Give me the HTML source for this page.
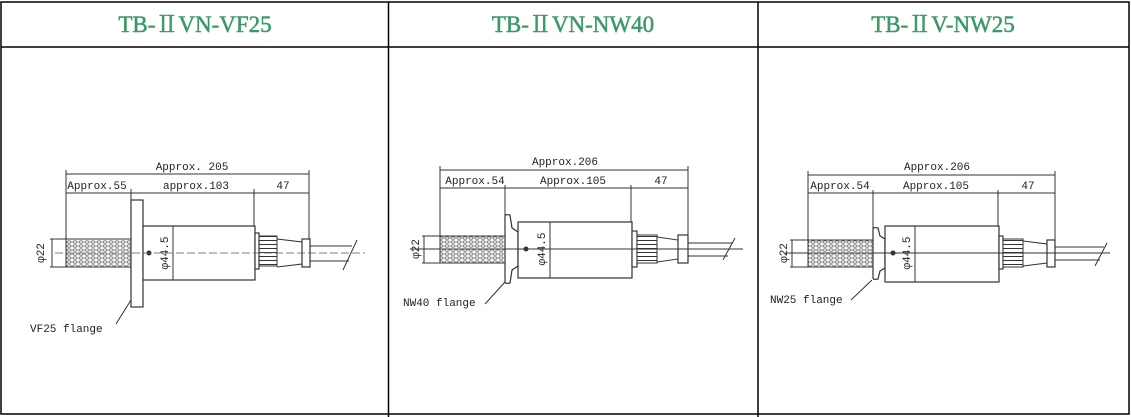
<!DOCTYPE html>
<html><head><meta charset="utf-8"><style>
html,body{margin:0;padding:0;background:#fff;width:1131px;height:417px;overflow:hidden}
svg{display:block}
.h{font-family:"Liberation Serif","Noto Serif CJK SC",serif;font-size:23px;fill:#3a9a68;stroke:#3a9a68;stroke-width:0.5}
.t{font-family:"Liberation Mono","DejaVu Sans Mono",monospace;font-size:11px;fill:#222}
.l{stroke:#333;stroke-width:1;fill:none}
.b{stroke:#333;stroke-width:1.2;fill:#fff}
</style></head><body>
<svg width="1131" height="417" viewBox="0 0 1131 417" xmlns="http://www.w3.org/2000/svg">
<defs>
<pattern id="m" width="6" height="4" patternUnits="userSpaceOnUse">
<rect width="6" height="4" fill="#fff"/>
<ellipse cx="3" cy="2" rx="2.2" ry="1.2" fill="none" stroke="#444" stroke-width="0.7"/>
</pattern>
<pattern id="k" width="3" height="4" patternUnits="userSpaceOnUse">
<rect width="3" height="4" fill="#fff"/><line x1="0" y1="0.5" x2="3" y2="0.5" stroke="#333" stroke-width="1"/>
</pattern>
</defs>
<g stroke="#000" stroke-width="1.5" fill="none">
<rect x="1" y="2" width="1128" height="412"/>
<line x1="1" y1="47" x2="1129" y2="47"/>
<line x1="388.5" y1="2" x2="388.5" y2="417"/>
<line x1="758" y1="2" x2="758" y2="417"/>
</g>
<text class="h" x="195" y="32" text-anchor="middle">TB-ⅡVN-VF25</text>
<text class="h" x="573" y="32" text-anchor="middle">TB-ⅡVN-NW40</text>
<text class="h" x="943" y="32" text-anchor="middle">TB-ⅡV-NW25</text>

<g>
<line class="l" x1="66" y1="174" x2="309" y2="174"/>
<line class="l" x1="66" y1="193" x2="309" y2="193"/>
<line class="l" x1="66" y1="170" x2="66" y2="240"/>
<line class="l" x1="309" y1="170" x2="309" y2="240"/>
<line class="l" x1="131" y1="189" x2="131" y2="200"/>
<line class="l" x1="254" y1="189" x2="254" y2="226"/>
<text class="t" x="192" y="170" text-anchor="middle">Approx. 205</text>
<text class="t" x="97" y="189" text-anchor="middle">Approx.55</text>
<text class="t" x="196" y="189" text-anchor="middle">approx.103</text>
<text class="t" x="283" y="189" text-anchor="middle">47</text>
<rect x="66" y="239" width="65" height="28" fill="url(#m)" stroke="#333"/>
<line class="l" x1="50" y1="239" x2="66" y2="239"/><line class="l" x1="50" y1="267" x2="66" y2="267"/>
<line class="l" x1="52" y1="239" x2="52" y2="267"/>
<text class="t" transform="translate(44,253) rotate(-90)" text-anchor="middle">φ22</text>
<rect class="b" x="131" y="200" width="12" height="107"/>
<rect class="b" x="143" y="226" width="112" height="54"/>
<line class="l" x1="173" y1="226" x2="173" y2="280"/>
<circle cx="149" cy="253" r="2.5" fill="#333"/>
<text class="t" transform="translate(168,253) rotate(-90)" text-anchor="middle">φ44.5</text>
<rect x="259" y="236" width="18" height="30" fill="url(#k)" stroke="#333"/>
<rect class="b" x="255" y="233" width="4" height="36"/>
<path class="l" d="M277 239 L302 242 L302 264 L277 267"/>
<rect class="b" x="302" y="239" width="8" height="28"/>
<line class="l" x1="310" y1="246" x2="352" y2="246"/><line class="l" x1="310" y1="261" x2="349" y2="261"/>
<line class="l" x1="343" y1="270" x2="357" y2="240"/>
<line x1="55" y1="253" x2="365" y2="253" stroke="#555" stroke-width="0.8" stroke-dasharray="8 3"/>
<line class="l" x1="131" y1="300" x2="116" y2="324"/>
<text class="t" x="30" y="332">VF25 flange</text>
</g>

<g>
<line class="l" x1="440" y1="170" x2="688" y2="170"/>
<line class="l" x1="440" y1="188" x2="688" y2="188"/>
<line class="l" x1="440" y1="166" x2="440" y2="236"/>
<line class="l" x1="688" y1="166" x2="688" y2="236"/>
<line class="l" x1="505" y1="185" x2="505" y2="215"/>
<line class="l" x1="631" y1="185" x2="631" y2="222"/>
<text class="t" x="565" y="165" text-anchor="middle">Approx.206</text>
<text class="t" x="475" y="184" text-anchor="middle">Approx.54</text>
<text class="t" x="573" y="184" text-anchor="middle">Approx.105</text>
<text class="t" x="661" y="184" text-anchor="middle">47</text>
<rect x="440" y="236" width="65" height="27" fill="url(#m)" stroke="#333"/>
<line class="l" x1="422" y1="236" x2="440" y2="236"/><line class="l" x1="422" y1="263" x2="440" y2="263"/>
<line class="l" x1="424" y1="236" x2="424" y2="263"/>
<text class="t" transform="translate(419,249) rotate(-90)" text-anchor="middle">φ22</text>
<path class="b" d="M505 216 Q505 214 510 215 L512 228 L518 232 L518 266 L512 270 L510 283 Q505 284 505 282 Z"/>
<rect class="b" x="518" y="222" width="114" height="56"/>
<line class="l" x1="550" y1="222" x2="550" y2="278"/>
<circle cx="526" cy="249" r="2.5" fill="#333"/>
<text class="t" transform="translate(545,249) rotate(-90)" text-anchor="middle">φ44.5</text>
<rect class="b" x="632" y="231" width="5" height="36"/>
<rect x="637" y="235" width="20" height="28" fill="url(#k)" stroke="#333"/>
<path class="l" d="M657 237 L678 240 L678 259 L657 262"/>
<rect class="b" x="678" y="235" width="10" height="28"/>
<line class="l" x1="688" y1="243" x2="732" y2="243"/><line class="l" x1="688" y1="256" x2="728" y2="256"/>
<line class="l" x1="723" y1="260" x2="735" y2="238"/>
<line x1="410" y1="249" x2="743" y2="249" stroke="#333" stroke-width="0.9"/>
<line class="l" x1="505" y1="282" x2="485" y2="304"/>
<text class="t" x="403" y="306">NW40 flange</text>
</g>

<g>
<line class="l" x1="808" y1="175" x2="1055" y2="175"/>
<line class="l" x1="808" y1="193" x2="1055" y2="193"/>
<line class="l" x1="808" y1="171" x2="808" y2="240"/>
<line class="l" x1="1055" y1="171" x2="1055" y2="240"/>
<line class="l" x1="873" y1="190" x2="873" y2="228"/>
<line class="l" x1="998" y1="190" x2="998" y2="226"/>
<text class="t" x="937" y="170" text-anchor="middle">Approx.206</text>
<text class="t" x="840" y="189" text-anchor="middle">Approx.54</text>
<text class="t" x="936" y="189" text-anchor="middle">Approx.105</text>
<text class="t" x="1028" y="189" text-anchor="middle">47</text>
<rect x="808" y="240" width="65" height="27" fill="url(#m)" stroke="#333"/>
<line class="l" x1="790" y1="240" x2="808" y2="240"/><line class="l" x1="790" y1="267" x2="808" y2="267"/>
<line class="l" x1="792" y1="240" x2="792" y2="267"/>
<text class="t" transform="translate(787,253) rotate(-90)" text-anchor="middle">φ22</text>
<path class="b" d="M873 229 Q873 227 878 228 L880 236 L885 239 L885 268 L880 271 L878 279 Q873 280 873 278 Z"/>
<rect class="b" x="885" y="226" width="114" height="56"/>
<line class="l" x1="915" y1="226" x2="915" y2="282"/>
<circle cx="893" cy="253" r="2.5" fill="#333"/>
<text class="t" transform="translate(910,253) rotate(-90)" text-anchor="middle">φ44.5</text>
<rect class="b" x="999" y="236" width="4" height="33"/>
<rect x="1003" y="239" width="20" height="28" fill="url(#k)" stroke="#333"/>
<path class="l" d="M1023 241 L1047 244 L1047 263 L1023 266"/>
<rect class="b" x="1047" y="240" width="8" height="27"/>
<line class="l" x1="1055" y1="247" x2="1104" y2="247"/><line class="l" x1="1055" y1="260" x2="1100" y2="260"/>
<line class="l" x1="1095" y1="266" x2="1107" y2="243"/>
<line x1="785" y1="253" x2="1110" y2="253" stroke="#333" stroke-width="0.9"/>
<line class="l" x1="872" y1="280" x2="851" y2="300"/>
<text class="t" x="770" y="303">NW25 flange</text>
</g>
</svg>
</body></html>
